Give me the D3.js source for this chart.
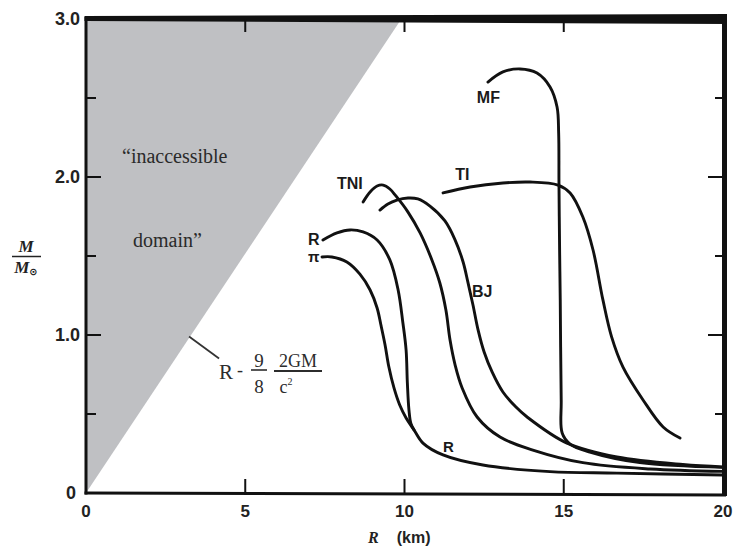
<!DOCTYPE html>
<html>
<head>
<meta charset="utf-8">
<script src="https://cdn.jsdelivr.net/npm/d3@7"></script>
<style>
  html, body { margin: 0; padding: 0; background: #fff; }
  svg { display: block; }
</style>
</head>
<body>
<svg id="chart" width="735" height="550"></svg>
<script>
// Mass–radius relations of neutron stars for several equations of state.
// Each curve is a list of [R (km), M / M_sun] points.
const curvePion = [
  [7.41, 1.494], [7.72, 1.494], [8.19, 1.462], [8.60, 1.385], [8.92, 1.285],
  [9.14, 1.171], [9.26, 1.063], [9.39, 0.937], [9.51, 0.797], [9.67, 0.665],
  [9.85, 0.557], [10.05, 0.475], [10.30, 0.399], [10.58, 0.316], [11.21, 0.241],
  [12.46, 0.177], [14.57, 0.135], [16.67, 0.126], [20.0, 0.114]
];
const curveReid = [
  [7.44, 1.601], [7.88, 1.646], [8.29, 1.665], [8.70, 1.652], [9.14, 1.601],
  [9.54, 1.475], [9.80, 1.285], [9.95, 1.076], [10.05, 0.905], [10.09, 0.696],
  [10.14, 0.525], [10.20, 0.440], [10.30, 0.399]
];
const curveTNI = [
  [8.70, 1.842], [8.92, 1.905], [9.14, 1.943], [9.33, 1.949], [9.54, 1.924],
  [9.73, 1.880], [10.11, 1.778], [10.49, 1.646], [10.86, 1.475], [11.11, 1.329],
  [11.30, 1.158], [11.43, 0.968], [11.59, 0.810], [11.81, 0.665], [12.28, 0.481],
  [13.00, 0.354], [14.03, 0.272], [15.60, 0.192], [17.71, 0.152], [20.0, 0.137]
];
const curveBJ = [
  [9.23, 1.791], [9.48, 1.829], [9.76, 1.854], [10.11, 1.867], [10.42, 1.861],
  [10.80, 1.816], [11.27, 1.722], [11.59, 1.601], [11.84, 1.462], [11.99, 1.335],
  [12.15, 1.190], [12.31, 1.032], [12.50, 0.892], [12.75, 0.766], [13.09, 0.639],
  [13.50, 0.544], [13.85, 0.481], [15.10, 0.316], [16.67, 0.228], [18.74, 0.180],
  [20.0, 0.165]
];
const curveTI = [
  [11.21, 1.899], [12.06, 1.937], [13.09, 1.962], [13.94, 1.968], [14.82, 1.949],
  [15.20, 1.899], [15.60, 1.747], [15.92, 1.538], [16.23, 1.222], [16.50, 0.990],
  [16.86, 0.797], [17.49, 0.589], [18.12, 0.418], [18.65, 0.348]
];
const curveMF = [
  [12.62, 2.601], [13.09, 2.665], [13.63, 2.684], [14.16, 2.658], [14.57, 2.570],
  [14.79, 2.443], [14.84, 2.278], [14.85, 1.962], [14.87, 1.538], [14.89, 1.222],
  [14.92, 0.589], [14.95, 0.380], [15.20, 0.310], [15.82, 0.259], [17.39, 0.192],
  [20.0, 0.162]
];

// Boundary of the excluded region, R = (9/8)(2GM/c^2)
const boundary = [[0, 0], [9.9, 3.0]];

// Axis ticks
const xMajorTicks = [0, 5, 10, 15, 20];
const xTickLabels = ["0", "5", "10", "15", "20"];
const yMajorTicks = [0, 1, 2, 3];
const yTickLabels = ["0", "1.0", "2.0", "3.0"];
const yMinorTicks = [0.5, 1.5, 2.5];

const svg = d3.select("#chart");
const x = d3.scaleLinear().domain([0, 20]).range([86, 723]);
const y = d3.scaleLinear().domain([0, 3]).range([493, 19]);

const ink = "#111";
const sansBold = "'Liberation Sans', Arial, Helvetica, sans-serif";
const serif = "'Liberation Serif', 'Times New Roman', serif";

// Shaded "inaccessible" triangle
svg.append("path")
  .attr("d", d3.line()([
    [x(boundary[0][0]), y(boundary[0][1])],
    [x(boundary[1][0]), y(boundary[1][1])],
    [x(0), y(3)]
  ]) + "Z")
  .attr("fill", "#bfc0c3");

// Frame
const x0 = x(0), x1 = x(20), yB = y(0), yT = y(3);
svg.append("line").attr("x1", x0).attr("x2", x0).attr("y1", yT - 2).attr("y2", yB + 1.5)
  .attr("stroke", ink).attr("stroke-width", 3);
svg.append("line").attr("x1", x0 - 1.5).attr("x2", x1 + 3).attr("y1", yB).attr("y2", yB + 2)
  .attr("stroke", ink).attr("stroke-width", 3);
svg.append("path")
  .attr("d", `M${x0 - 1.5},${yT - 3} L${x1 + 4},${yT - 5} L${x1 + 4},${yT + 5} L${x0 - 1.5},${yT + 2} Z`)
  .attr("fill", ink);
svg.append("line").attr("x1", x1 + 1.5).attr("x2", x1 + 1.5).attr("y1", yT - 5).attr("y2", yB + 3)
  .attr("stroke", ink).attr("stroke-width", 5);

// Ticks (pointing inward)
const tickG = svg.append("g").attr("stroke", ink).attr("stroke-width", 2);
xMajorTicks.slice(1, -1).forEach(v => {
  tickG.append("line").attr("x1", x(v)).attr("x2", x(v)).attr("y1", yB).attr("y2", yB - 14);
  tickG.append("line").attr("x1", x(v)).attr("x2", x(v)).attr("y1", yT).attr("y2", yT + 13);
});
yMajorTicks.slice(1, -1).forEach(v => {
  tickG.append("line").attr("x1", x0).attr("x2", x0 + 15).attr("y1", y(v)).attr("y2", y(v));
  tickG.append("line").attr("x1", x1).attr("x2", x1 - 15).attr("y1", y(v)).attr("y2", y(v));
});
yMinorTicks.forEach(v => {
  tickG.append("line").attr("x1", x0).attr("x2", x0 + 10).attr("y1", y(v)).attr("y2", y(v));
  tickG.append("line").attr("x1", x1).attr("x2", x1 - 8).attr("y1", y(v)).attr("y2", y(v));
});

// Tick labels
xMajorTicks.forEach((v, i) => {
  svg.append("text").attr("x", x(v)).attr("y", 517)
    .attr("text-anchor", "middle").attr("font-family", sansBold).attr("font-weight", "bold")
    .attr("font-size", 17).attr("fill", "#222").text(xTickLabels[i]);
});
yMajorTicks.forEach((v, i) => {
  svg.append("text").attr("x", i === 0 ? 76 : 80).attr("y", y(v) + 6)
    .attr("text-anchor", "end").attr("font-family", sansBold).attr("font-weight", "bold")
    .attr("font-size", 18).attr("fill", "#222").text(yTickLabels[i]);
});

// Axis titles
const xt = svg.append("text").attr("x", 368).attr("y", 543)
  .attr("font-family", sansBold).attr("font-weight", "bold").attr("font-size", 16).attr("fill", "#222");
xt.append("tspan").attr("font-family", serif).attr("font-style", "italic").text("R");
xt.append("tspan").attr("dx", 18).text("(km)");

svg.append("text").attr("x", 26).attr("y", 252).attr("text-anchor", "middle")
  .attr("font-family", serif).attr("font-style", "italic").attr("font-weight", "bold")
  .attr("font-size", 17).attr("fill", "#222").text("M");
svg.append("line").attr("x1", 12).attr("x2", 41).attr("y1", 256.5).attr("y2", 256.5)
  .attr("stroke", "#222").attr("stroke-width", 1.5);
const mSun = svg.append("text").attr("x", 26).attr("y", 273).attr("text-anchor", "middle")
  .attr("font-family", serif).attr("font-style", "italic").attr("font-weight", "bold")
  .attr("font-size", 17).attr("fill", "#222");
mSun.append("tspan").text("M");
mSun.append("tspan").attr("font-size", 10).attr("font-style", "normal").attr("dy", 2)
  .attr("font-family", "'DejaVu Sans', sans-serif").text("⊙");

// Curves
const line = d3.line()
  .x(d => x(d[0]))
  .y(d => y(d[1]))
  .curve(d3.curveCatmullRom.alpha(0.5));

[curvePion, curveReid, curveTNI, curveBJ, curveTI, curveMF].forEach(c => {
  svg.append("path").attr("d", line(c))
    .attr("fill", "none").attr("stroke", ink).attr("stroke-width", 2.9)
    .attr("stroke-linecap", "round").attr("stroke-linejoin", "round");
});

// Curve labels
const curveLabels = [
  { text: "MF", r: 12.27, m: 2.468, size: 16 },
  { text: "TI", r: 11.59, m: 1.981, size: 16 },
  { text: "TNI", r: 7.88, m: 1.924, size: 16 },
  { text: "R", r: 6.97, m: 1.570, size: 16 },
  { text: "π", r: 6.97, m: 1.465, size: 15 },
  { text: "BJ", r: 12.12, m: 1.241, size: 16 },
  { text: "R", r: 11.21, m: 0.259, size: 15 }
];
curveLabels.forEach(l => {
  svg.append("text").attr("x", x(l.r)).attr("y", y(l.m))
    .attr("font-family", sansBold).attr("font-weight", "bold")
    .attr("font-size", l.size).attr("fill", "#1a1a1a").text(l.text);
});

// Region annotation
svg.append("text").attr("x", 122).attr("y", 163)
  .attr("font-family", serif).attr("font-size", 20).attr("fill", "#2a2a2a")
  .text("\u201Cinaccessible");
svg.append("text").attr("x", 133).attr("y", 247)
  .attr("font-family", serif).attr("font-size", 20).attr("fill", "#2a2a2a")
  .text("domain\u201D");

// Boundary formula with leader line
const mLead = 0.99;
const rLead = boundary[1][0] * mLead / boundary[1][1];
svg.append("line")
  .attr("x1", x(rLead) - 1).attr("y1", y(mLead))
  .attr("x2", x(rLead) + 29).attr("y2", y(mLead) + 22)
  .attr("stroke", "#333").attr("stroke-width", 1.8);

const fg = svg.append("g").attr("font-family", serif).attr("fill", "#2c2c2c");
fg.append("text").attr("x", 219).attr("y", 379).attr("font-size", 21).text("R");
fg.append("text").attr("x", 237).attr("y", 376).attr("font-size", 18).text("-");
fg.append("text").attr("x", 259).attr("y", 367).attr("font-size", 19).attr("text-anchor", "middle").text("9");
fg.append("line").attr("x1", 251).attr("x2", 267).attr("y1", 370).attr("y2", 370)
  .attr("stroke", "#2c2c2c").attr("stroke-width", 1.6);
fg.append("text").attr("x", 259).attr("y", 393).attr("font-size", 19).attr("text-anchor", "middle").text("8");
fg.append("text").attr("x", 298).attr("y", 367).attr("font-size", 18).attr("text-anchor", "middle").text("2GM");
fg.append("line").attr("x1", 274).attr("x2", 322).attr("y1", 371).attr("y2", 371)
  .attr("stroke", "#2c2c2c").attr("stroke-width", 1.8);
const c2 = fg.append("text").attr("x", 286).attr("y", 393).attr("font-size", 18).attr("text-anchor", "middle");
c2.append("tspan").text("c");
c2.append("tspan").attr("font-size", 10).attr("dy", -8).text("2");
</script>
</body>
</html>
